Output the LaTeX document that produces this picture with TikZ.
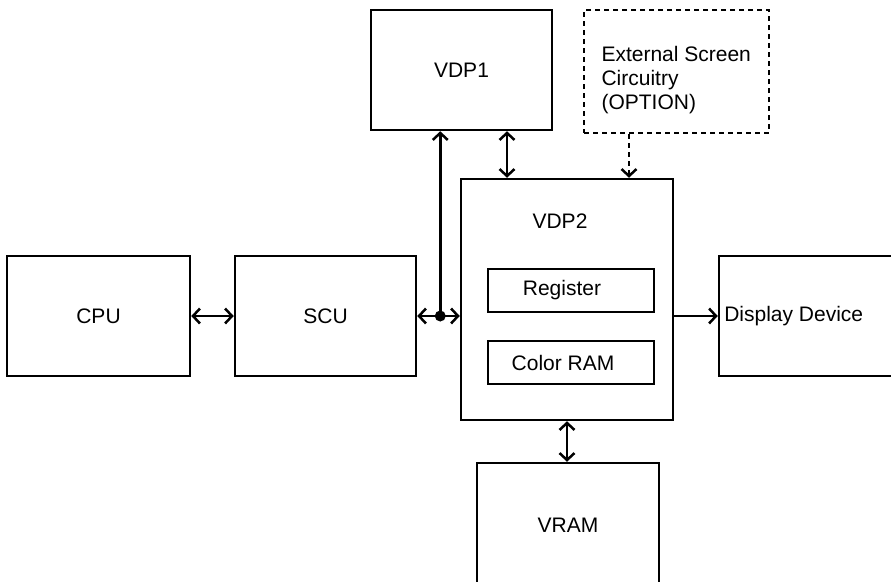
\documentclass[tikz,border=0pt]{standalone}
\usepackage{fontspec}
\setmainfont{Liberation Sans}
\usetikzlibrary{arrows.meta}

\tikzset{
	blk/.style = {draw, line width=2.5pt, rectangle, inner sep=0pt, font=\fontsize{21}{24}\selectfont},
	optblk/.style = {blk, dash pattern=on 5pt off 4pt},
	txt/.style = {font=\fontsize{21}{24}\selectfont, align=left},
	bus/.style = {line width=2.5pt, {Straight Barb[length=7pt,width=15pt]}-{Straight Barb[length=7pt,width=15pt]}},
	feed/.style = {line width=2.5pt, -{Straight Barb[length=7pt,width=15pt]}},
}

\begin{document}
\begin{tikzpicture}[x=1pt, y=-1pt]
	\useasboundingbox (0,0) rectangle (891,581);
	% blocks
	\node[blk, minimum width=183pt, minimum height=120pt] (cpu) at (98.5,316) {CPU};
	\node[blk, minimum width=181pt, minimum height=120pt] (scu) at (325.5,316) {SCU};
	\node[blk, minimum width=181pt, minimum height=120pt] (vdp1) at (461.5,70) {VDP1};
	\node[optblk, minimum width=185pt, minimum height=123pt] (ext) at (676.5,71.5) {};
	\node[txt, anchor=west] (extlbl) at (598,80) {External Screen\\Circuitry\\(OPTION)};
	\node[blk, minimum width=212pt, minimum height=241pt] (vdp2) at (567,299.5) {};
	\node[txt] (vdp2lbl) at (560,221) {VDP2};
	\node[blk, minimum width=166pt, minimum height=43pt,
		label={[txt, xshift=-9pt]center:Register}] (reg) at (571,290.5) {};
	\node[blk, minimum width=166pt, minimum height=43pt,
		label={[txt, xshift=-8pt]center:Color RAM}] (cram) at (571,362.5) {};
	\node[blk, minimum width=176pt, minimum height=120pt,
		label={[txt, anchor=west, xshift=3pt]west:Display Device}] (disp) at (807,316) {};
	\node[blk, minimum width=182pt, minimum height=124pt] (vram) at (568,525) {VRAM};

	% buses
	\draw[bus] (cpu) -- (scu);
	\draw[bus] (scu.east) -- (scu.east -| vdp2.west);
	\coordinate (jn) at ([xshift=23pt]scu.east);
	\fill (jn) circle (5.5pt);
	\draw[feed] (jn) -- (jn |- vdp1.south);
	\coordinate (b1) at ([xshift=45.5pt]vdp1.south);
	\draw[bus] (b1) -- (b1 |- vdp2.north);
	\coordinate (b2) at ([xshift=-47.5pt]ext.south);
	\draw[feed, dash pattern=on 5pt off 4pt] (b2) -- (b2 |- vdp2.north);
	\draw[feed] (vdp2.east |- disp.west) -- (disp.west);
	\draw[bus] (vdp2.south) -- (vdp2.south |- vram.north);
\end{tikzpicture}
\end{document}
